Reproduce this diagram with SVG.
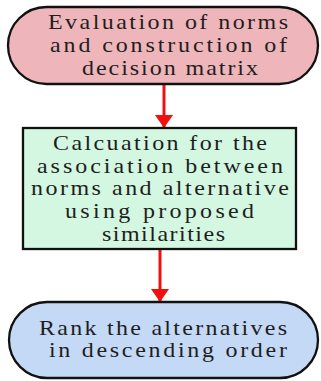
<svg xmlns="http://www.w3.org/2000/svg" width="321" height="381" viewBox="0 0 321 381">
<style>
.n{stroke:#111;stroke-width:2.3}
.t{font-family:"Liberation Serif","Times New Roman",serif;font-size:20px;fill:#1e1e1e}
.c{stroke:#f01010;stroke-width:3;fill:none}
</style>
<defs>
<marker id="ah" markerWidth="13" markerHeight="18" refX="12" refY="9" orient="auto" markerUnits="userSpaceOnUse">
<path d="M0,0 L13,9 L0,18 Z" fill="#f01010"/>
</marker>
</defs>
<rect width="321" height="381" fill="#fff"/>
<g id="connectors">
<line class="c" x1="164" y1="85" x2="164" y2="127" marker-end="url(#ah)"/>
<line class="c" x1="160" y1="250" x2="160" y2="301" marker-end="url(#ah)"/>
</g>
<g id="n1">
<rect class="n" x="8" y="7" width="310" height="77" rx="38.5" fill="#eeb6ba"/>
<g transform="scale(1.2 1)">
<text class="t" x="40" y="29" textLength="200" lengthAdjust="spacing">Evaluation of norms</text>
<text class="t" x="41.7" y="52" textLength="197.5" lengthAdjust="spacing">and construction of</text>
<text class="t" x="68.3" y="75" textLength="146.7" lengthAdjust="spacing">decision matrix</text>
</g>
</g>
<g id="n2">
<rect class="n" x="23" y="128" width="273" height="121" fill="#d3f7e1"/>
<g transform="scale(1.2 1)">
<text class="t" x="44.2" y="150" textLength="178.3" lengthAdjust="spacing">Calcuation for the</text>
<text class="t" x="30.8" y="173" textLength="205" lengthAdjust="spacing">association between</text>
<text class="t" x="25.8" y="195" textLength="215" lengthAdjust="spacing">norms and alternative</text>
<text class="t" x="54.2" y="218" textLength="157.5" lengthAdjust="spacing">using proposed</text>
<text class="t" x="85" y="241" textLength="102.5" lengthAdjust="spacing">similarities</text>
</g>
</g>
<g id="n3">
<rect class="n" x="9" y="302" width="309" height="76" rx="38" fill="#c4d9f6"/>
<g transform="scale(1.2 1)">
<text class="t" x="32.5" y="335" textLength="206.7" lengthAdjust="spacing">Rank the alternatives</text>
<text class="t" x="40.8" y="357" textLength="198.3" lengthAdjust="spacing">in descending order</text>
</g>
</g>
</svg>
